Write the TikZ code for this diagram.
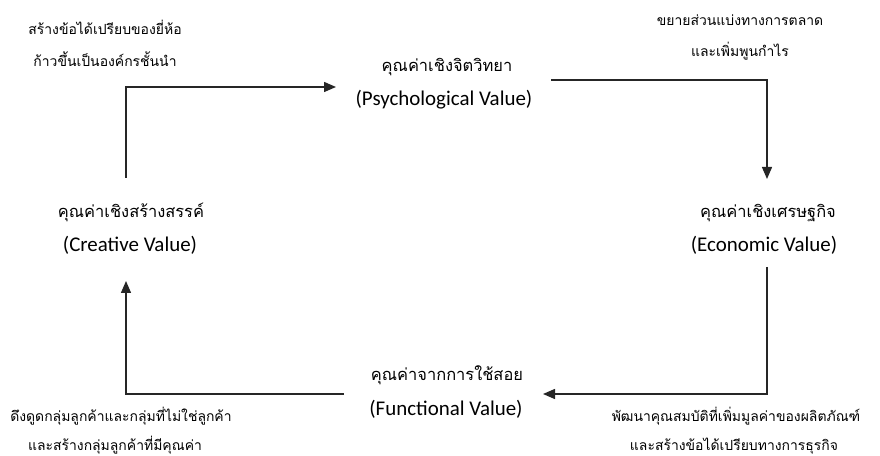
\documentclass[tikz,border=0pt]{standalone}
\usepackage{fontspec}
\setmainfont{Carlito}
\newfontfamily\thaifont[Script=Thai]{Loma}
\usetikzlibrary{arrows.meta}

\begin{document}
\begin{tikzpicture}[x=1bp,y=-1bp,
  eng/.style={anchor=base,inner sep=0pt,font=\fontsize{21}{25}\selectfont},
  thaihead/.style={anchor=base,inner sep=0pt,font=\thaifont\fontsize{16.5}{20}\selectfont},
  thailabel/.style={anchor=base,inner sep=0pt,font=\thaifont\fontsize{14}{17}\selectfont},
  flow/.style={draw=black!85,line width=1.4bp,-{Triangle[length=12bp,width=10bp]}}]
\useasboundingbox (0,0) rectangle (880,456);

% value headings
\node[thaihead] (psychT) at (447,72) {คุณค่าเชิงจิตวิทยา};
\node[eng]      (psych)  at (444,106) {(Psychological Value)};
\node[thaihead] (econT)  at (768,218) {คุณค่าเชิงเศรษฐกิจ};
\node[eng]      (econ)   at (764,252) {(Economic Value)};
\node[thaihead] (funcT)  at (447,381) {คุณค่าจากการใช้สอย};
\node[eng]      (func)   at (446,415) {(Functional Value)};
\node[thaihead] (creaT)  at (131,218) {คุณค่าเชิงสร้างสรรค์};
\node[eng]      (crea)   at (130,252) {(Creative Value)};

% side notes
\node[thailabel] (tl1) at (105,35) {สร้างข้อได้เปรียบของยี่ห้อ};
\node[thailabel] (tl2) at (105,67) {ก้าวขึ้นเป็นองค์กรชั้นนำ};
\node[thailabel] (tr1) at (740,26) {ขยายส่วนแบ่งทางการตลาด};
\node[thailabel] (tr2) at (740,57) {และเพิ่มพูนกำไร};
\node[thailabel] (bl1) at (121,421) {ดึงดูดกลุ่มลูกค้าและกลุ่มที่ไม่ใช่ลูกค้า};
\node[thailabel] (bl2) at (115,450) {และสร้างกลุ่มลูกค้าที่มีคุณค่า};
\node[thailabel] (br1) at (736,421) {พัฒนาคุณสมบัติที่เพิ่มมูลค่าของผลิตภัณฑ์};
\node[thailabel] (br2) at (734,450) {และสร้างข้อได้เปรียบทางการธุรกิจ};

% connector ends
\coordinate (creaOut) at (126,178);
\coordinate (psychIn) at (336,87);
\coordinate (psychOut) at (551,80);
\coordinate (econIn) at (767,179);
\coordinate (econOut) at (767,267);
\coordinate (funcIn) at (543,394);
\coordinate (funcOut) at (344,394);
\coordinate (creaIn) at (126,281);

% cycle
\draw[flow] (creaOut) |- (psychIn);
\draw[flow] (psychOut) -| (econIn);
\draw[flow] (econOut) |- (funcIn);
\draw[flow] (funcOut) -| (creaIn);
\end{tikzpicture}
\end{document}
